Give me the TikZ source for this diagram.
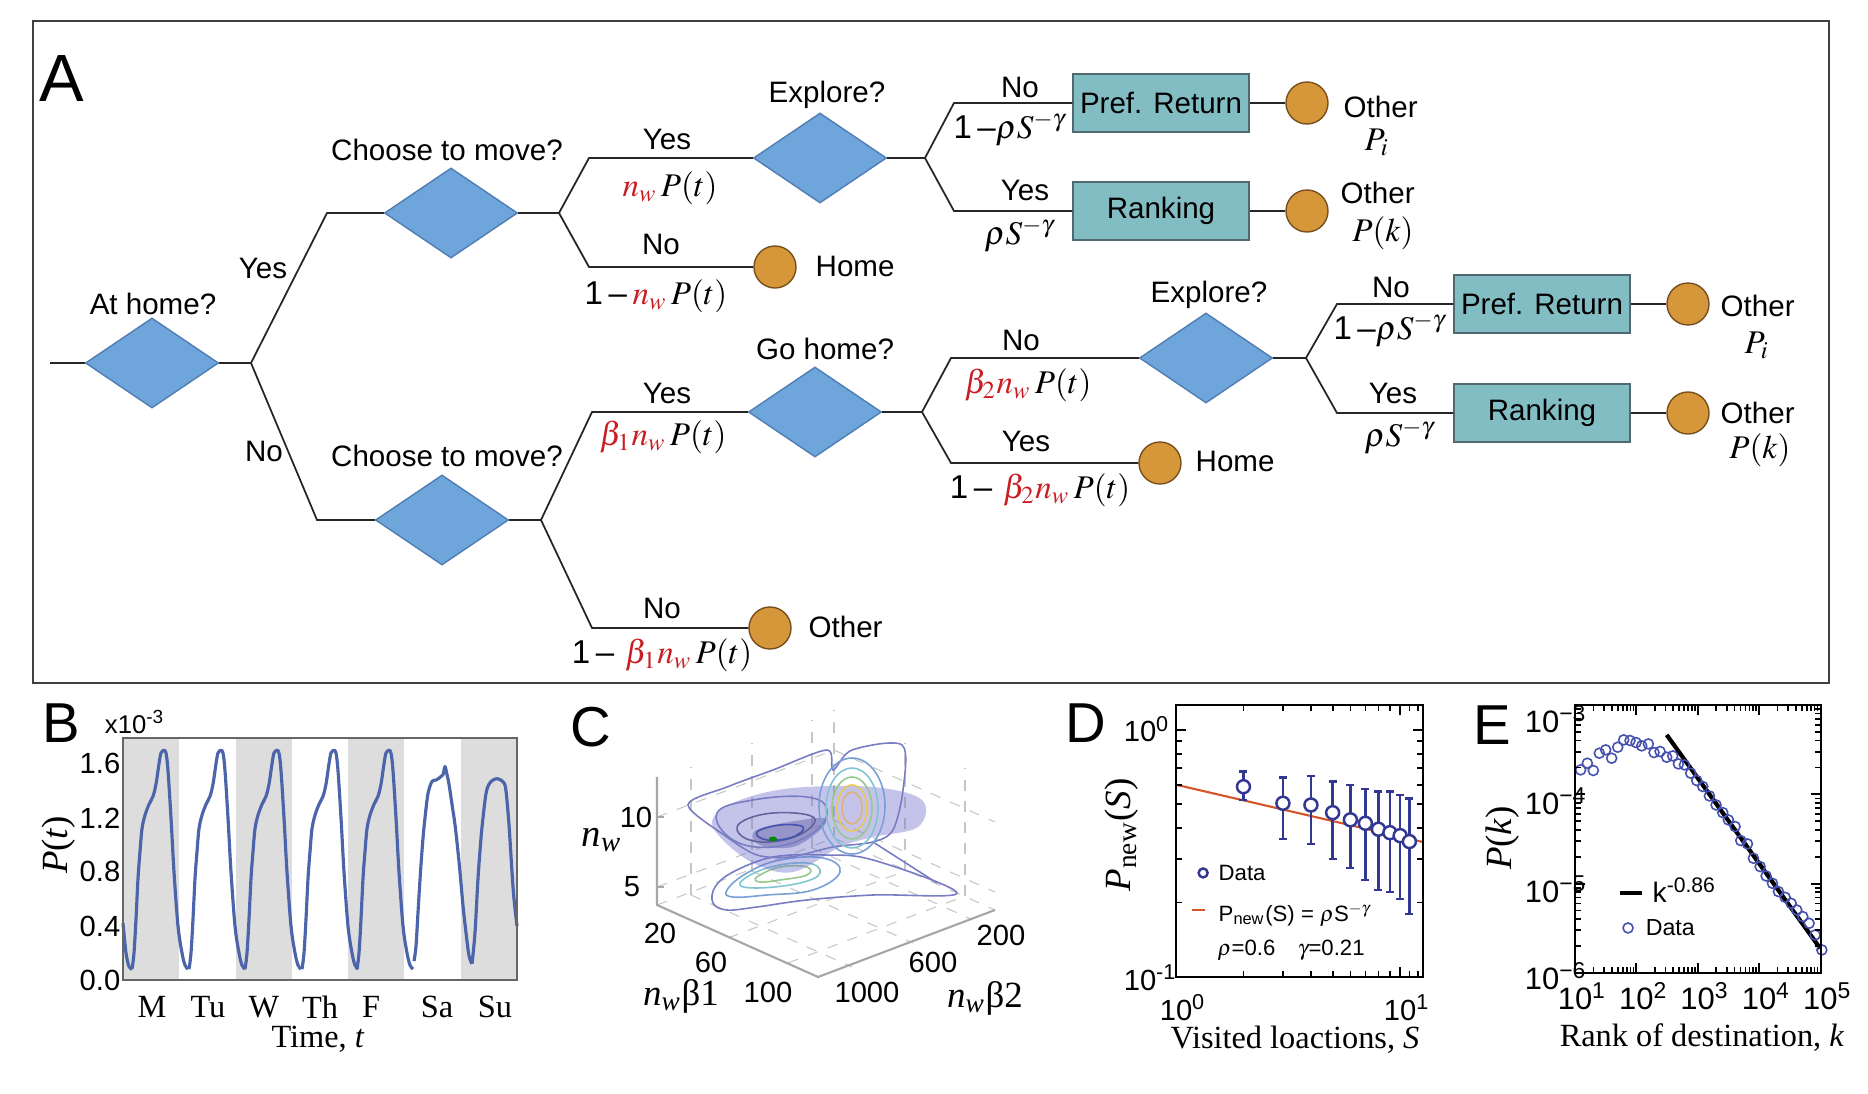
\documentclass[tikz,border=0pt]{standalone}
\usepackage{mathptmx}
\usepackage{fontspec}
\setmainfont{Liberation Sans}
\newfontfamily\timesf{Liberation Serif}
\usetikzlibrary{shapes.geometric}

\definecolor{diaFill}{RGB}{110,165,218}
\definecolor{diaLine}{RGB}{80,125,180}
\definecolor{boxFill}{RGB}{131,189,196}
\definecolor{boxLine}{RGB}{80,105,110}
\definecolor{dotFill}{RGB}{214,150,58}
\definecolor{dotLine}{RGB}{120,80,30}
\definecolor{probRed}{RGB}{200,30,35}
\definecolor{curveBlue}{RGB}{75,100,170}
\definecolor{bandGray}{RGB}{221,221,221}
\definecolor{dataBlue}{RGB}{50,55,145}
\definecolor{fitOrange}{RGB}{215,85,40}
\definecolor{ringBlue}{RGB}{70,80,175}
\definecolor{surfViolet}{RGB}{115,115,205}
\definecolor{cBlue}{RGB}{120,125,195}
\definecolor{cSky}{RGB}{120,160,215}
\definecolor{cCyan}{RGB}{130,195,210}
\definecolor{cGreen}{RGB}{150,200,140}
\definecolor{cOrange}{RGB}{225,175,120}

\newcommand\rd[1]{\textcolor{probRed}{#1}}
\newcommand\lblsize{\fontsize{8.4}{9}\selectfont}
\newcommand\probsize{\fontsize{9.4}{10}\selectfont}
\newcommand\plotsize{\fontsize{8.3}{9}\selectfont}
\newcommand\serifsize{\fontsize{9.2}{10}\selectfont\timesf}
\newcommand\legsize{\fontsize{6.3}{7}\selectfont}
\newcommand\nw{{\timesf\itshape n\textsubscript{w}}}

\tikzset{
  decision/.style={diamond, draw=diaLine, fill=diaFill, minimum width=1.33cm, minimum height=0.9cm, inner sep=0pt},
  action/.style={rectangle, draw=boxLine, fill=boxFill, minimum width=1.76cm, minimum height=0.58cm, inner sep=0pt, font=\lblsize},
  outcome/.style={circle, draw=dotLine, fill=dotFill, minimum size=0.42cm, inner sep=0pt},
  edge/.style={black!85, line width=0.5pt},
  lbl/.style={font=\lblsize, inner sep=0pt},
  prob/.style={font=\probsize, inner sep=0pt},
  panel/.style={font=\fontsize{16}{16}\selectfont, inner sep=0pt},
  ticklbl/.style={font=\plotsize, inner sep=0pt},
  axlbl/.style={font=\serifsize, inner sep=0pt},
  weekcurve/.style={curveBlue, line width=0.9pt, line join=round},
  axln/.style={black, line width=0.5pt},
  cgrid/.style={gray!45, dashed, line width=0.3pt},
  ctr/.style={line width=0.45pt},
  dataring/.style={dataBlue, line width=0.7pt, fill=white},
  databar/.style={dataBlue, line width=0.7pt},
  fitline/.style={fitOrange, line width=0.6pt},
  ring/.style={ringBlue, line width=0.45pt},
}

\begin{document}
\begin{tikzpicture}[x=0.01cm, y=-0.01cm]
\useasboundingbox (0,0) rectangle (1868,1094);

%%%%% A: decision tree %%%%%
\draw[black!75, line width=0.6pt] (33,21) rectangle (1829,683);
\node[panel, font=\fontsize{19}{19}\selectfont] (pA) at (62,79) {A};

\node[decision] (athome) at (152,363) {};
\node[decision] (mv1) at (451,213) {};
\node[decision] (mv2) at (442,520) {};
\node[decision] (exp1) at (820,158) {};
\node[decision] (gohome) at (815,412) {};
\node[decision] (exp2) at (1206,358) {};

\node[action] (pr1) at (1161,103) {Pref. Return};
\node[action] (rk1) at (1161,211) {Ranking};
\node[action] (pr2) at (1542,304) {Pref. Return};
\node[action] (rk2) at (1542,413) {Ranking};

\node[outcome] (home1) at (775,267) {};
\node[outcome] (other1) at (770,628) {};
\node[outcome] (home2) at (1160,463) {};
\node[outcome] (oth1) at (1307,103) {};
\node[outcome] (oth2) at (1307,211) {};
\node[outcome] (oth3) at (1688,304) {};
\node[outcome] (oth4) at (1688,413) {};

\node[lbl] (qathome) at (153,304) {At home?};
\node[lbl] (qmv1) at (447,150) {Choose to move?};
\node[lbl] (qmv2) at (447,456) {Choose to move?};
\node[lbl] (qexp1) at (827,95) {Explore?};
\node[lbl] (qgohome) at (825,349) {Go home?};
\node[lbl] (qexp2) at (1209,295) {Explore?};

\coordinate (start) at (50,363);
\coordinate (b1) at (251,363);
\coordinate (b2) at (559,213);
\coordinate (b3) at (541,520);
\coordinate (b4) at (925,158);
\coordinate (b5) at (922,412);
\coordinate (b6) at (1306,358);

\draw[edge] (start) -- (athome.west);
\draw[edge] (athome.east) -- (b1) -- (327,213) -- (mv1.west);
\draw[edge] (b1) -- (317,520) -- (mv2.west);
\draw[edge] (mv1.east) -- (b2) -- (589,158) -- (exp1.west);
\draw[edge] (b2) -- (589,267) -- (home1.west);
\draw[edge] (mv2.east) -- (b3) -- (592,412) -- (gohome.west);
\draw[edge] (b3) -- (592,628) -- (other1.west);
\draw[edge] (exp1.east) -- (b4) -- (954,103) -- (pr1.west);
\draw[edge] (b4) -- (954,211) -- (rk1.west);
\draw[edge] (gohome.east) -- (b5) -- (951,358) -- (exp2.west);
\draw[edge] (b5) -- (951,463) -- (home2.west);
\draw[edge] (exp2.east) -- (b6) -- (1337,304) -- (pr2.west);
\draw[edge] (b6) -- (1337,413) -- (rk2.west);
\draw[edge] (pr1) -- (oth1);
\draw[edge] (rk1) -- (oth2);
\draw[edge] (pr2) -- (oth3);
\draw[edge] (rk2) -- (oth4);

% branch labels
\node[lbl] (y1) at (263,268) {Yes};
\node[lbl] (n1) at (264,451) {No};
\node[lbl] (y2) at (667,139) {Yes};
\node[prob] (p2) at (670,188) {$\rd{n_w}\,P(t)$};
\node[lbl] (n2) at (661,244) {No};
\node[prob] (q2) at (656,296) {1\,–\,$\rd{n_w}\,P(t)$};
\node[lbl] (y3) at (667,393) {Yes};
\node[prob] (p3) at (663,437) {$\rd{\beta_1 n_w}\,P(t)$};
\node[lbl] (n3) at (662,608) {No};
\node[prob] (q3) at (662,655) {1\,–\,\,$\rd{\beta_1 n_w}\,P(t)$};
\node[lbl] (n4) at (1020,87) {No};
\node[prob] (q4) at (1010,129) {1\,–$\rho S^{-\gamma}$};
\node[lbl] (y4) at (1025,190) {Yes};
\node[prob] (p4) at (1020,235) {$\rho S^{-\gamma}$};
\node[lbl] (n5) at (1021,340) {No};
\node[prob] (q5) at (1028,385) {$\rd{\beta_2 n_w}\,P(t)$};
\node[lbl] (y5) at (1026,441) {Yes};
\node[prob] (p5) at (1040,490) {1\,–\,\,$\rd{\beta_2 n_w}\,P(t)$};
\node[lbl] (n6) at (1391,287) {No};
\node[prob] (q6) at (1390,330) {1\,–$\rho S^{-\gamma}$};
\node[lbl] (y6) at (1393,393) {Yes};
\node[prob] (p6) at (1400,437) {$\rho S^{-\gamma}$};

% outcomes
\node[lbl, anchor=west] (t1) at (815,266) {Home};
\node[lbl, anchor=west] (t2) at (808,627) {Other};
\node[lbl, anchor=west] (t3) at (1195,461) {Home};
\node[lbl, anchor=west] (t4) at (1343,107) {Other};
\node[prob] (t4p) at (1377,142) {$P_i$};
\node[lbl, anchor=west] (t5) at (1340,193) {Other};
\node[prob] (t5p) at (1383,233) {$P(k)$};
\node[lbl, anchor=west] (t6) at (1720,306) {Other};
\node[prob] (t6p) at (1757,345) {$P_i$};
\node[lbl, anchor=west] (t7) at (1720,413) {Other};
\node[prob] (t7p) at (1760,450) {$P(k)$};

%%%%% B: P(t) over the week %%%%%
\node[panel] (pB) at (61,723) {B};
\begin{scope}[shift={(123,980)}, x=0.01cm, y=1.35cm]
  \foreach \d in {0,2,4,6}
    \fill[bandGray] ({\d*56.29},0) rectangle ({(\d+1)*56.29},1.793);
  \draw[weekcurve] plot[smooth] coordinates {(0,0.42) (3,0.2) (6,0.1) (9,0.08)};
  \foreach \m in {9,66,122,179,234}
    \draw[weekcurve] plot[smooth, tension=0.55] coordinates {(\m,0.08) ({\m+2},0.2) ({\m+4},0.45) ({\m+6},0.75) ({\m+8},0.95) ({\m+10},1.12) ({\m+13},1.22) ({\m+17},1.3) ({\m+21},1.36) ({\m+24},1.45) ({\m+27},1.6) ({\m+29},1.68) ({\m+32},1.7) ({\m+34},1.68) ({\m+36},1.55) ({\m+39},1.2) ({\m+42},0.8) ({\m+46},0.4) ({\m+50},0.2) ({\m+53},0.11) ({\m+56},0.08)};
  % weekend
  \draw[weekcurve] plot[smooth, tension=0.55] coordinates {(291,0.14) (293,0.25) (295,0.5) (297.5,0.8) (300,1.05) (302,1.2) (305,1.38) (309,1.47) (313,1.48) (317,1.5) (320,1.52) (322,1.58) (324,1.52) (326,1.45) (329,1.3) (332,1.15) (335,0.95) (337,0.8) (340,0.55) (343,0.35) (346,0.18) (349,0.12)};
  \draw[weekcurve] plot[smooth, tension=0.55] coordinates {(349,0.12) (352,0.35) (355,0.75) (358,1.05) (360,1.2) (363,1.38) (366,1.45) (370,1.48) (374,1.49) (378,1.48) (381,1.46) (383,1.4) (386,1.15) (389,0.8) (391,0.6) (394,0.4)};
  \draw[black!60, line width=0.5pt] (0,0) rectangle (394,1.793);
  \foreach \v [count=\i] in {0.0,0.4,0.8,1.2,1.6}
    \node[ticklbl, anchor=east] (byt\i) at (-2,\v) {\v};
  \foreach \x/\d [count=\i] in {29/M,85/Tu,141/W,197/Th,248/F,314/Sa,372/Su}
    \node[axlbl] (bday\i) at (\x,-0.2) {\d};
  \node[axlbl] (bxlab) at (195,-0.44) {Time, \textit{t}};
  \node[axlbl, rotate=90, font=\fontsize{10.5}{11}\selectfont\timesf] (bylab) at (-64,1.0) {\textit{P}(\textit{t})};
  \node[ticklbl, font=\fontsize{7.3}{8}\selectfont] (bscale) at (12,1.91) {x10\textsuperscript{-3}};
\end{scope}

%%%%% C: parameter landscape %%%%%
\node[panel] (pC) at (591,727) {C};
% back walls and floor
\draw[cgrid] (834,838) -- (834,710);
\draw[cgrid] (691,895) -- (691,767);
\draw[cgrid] (752,871) -- (752,743);
\draw[cgrid] (812,848) -- (812,720);
\draw[cgrid] (905,871) -- (905,743);
\draw[cgrid] (965,896) -- (965,768);
\draw[cgrid] (657,887) -- (834,820) -- (995,892);
\draw[cgrid] (657,817) -- (834,750) -- (995,822);
\draw[cgrid] (657,905) -- (834,838) -- (995,910);
\draw[cgrid] (728,938) -- (905,871);
\draw[cgrid] (788,963) -- (965,896);
\draw[cgrid] (691,895) -- (852,967);
\draw[cgrid] (752,871) -- (913,943);
\draw[cgrid] (812,848) -- (973,920);
% lower contour layer
\draw[ctr, cBlue] plot[smooth cycle, tension=0.6] coordinates {(713,903) (715,887) (733,872) (773,857) (823,855) (873,860) (957,893) (873,895) (807,900) (757,907) (727,910)};
\draw[ctr, cSky] plot[smooth cycle, tension=0.7] coordinates {(727,890) (747,873) (780,860) (823,858) (840,872) (813,890) (767,895) (733,897)};
\draw[ctr, cCyan] plot[smooth cycle, tension=0.7] coordinates {(740,883) (767,868) (807,863) (820,873) (800,883) (757,888)};
\draw[ctr, cGreen] plot[smooth cycle, tension=0.7] coordinates {(757,877) (780,867) (807,867) (807,875) (780,880) (760,882)};
\draw[ctr, cBlue] (873,842) -- (937,883);
% translucent surfaces
\fill[surfViolet, opacity=0.42] plot[smooth cycle, tension=0.6] coordinates {(713,818) (740,800) (793,788) (873,787) (922,800) (918,827) (873,837) (840,847) (793,872) (753,863) (720,837)};
\fill[surfViolet!80!black, opacity=0.45] plot[smooth cycle, tension=0.6] coordinates {(753,833) (773,825) (823,818) (820,830) (793,847) (760,845)};
% upper contour layer
\draw[ctr, cBlue] plot[smooth cycle, tension=0.5] coordinates {(688,805) (727,787) (773,770) (827,750) (833,770) (852,750) (902,745) (903,790) (893,830) (873,842) (833,847) (790,857) (757,855) (727,837)};
\draw[ctr, cBlue] plot[smooth cycle, tension=0.7] coordinates {(717,813) (753,800) (807,797) (827,810) (813,833) (773,847) (733,840)};
\draw[ctr, cBlue!80!black] plot[smooth cycle, tension=0.7] coordinates {(740,823) (773,813) (813,817) (803,833) (770,842) (743,837)};
\draw[ctr, ringBlue] plot[smooth cycle, tension=0.7] coordinates {(757,832) (780,825) (803,827) (793,837) (767,840)};
\draw[ctr, cSky] (852,806) ellipse[x radius=33, y radius=48];
\draw[ctr, cCyan] (852,808) ellipse[x radius=26, y radius=40];
\draw[ctr, cGreen] (852,808) ellipse[x radius=20, y radius=31];
\draw[ctr, cOrange!70!yellow] (852,808) ellipse[x radius=15, y radius=23];
\draw[ctr, cOrange] (852,808) ellipse[x radius=10, y radius=16];
\fill[green!55!black] (773,839) ellipse[x radius=4, y radius=2.5];
% axes
\draw[gray!70, line width=0.6pt] (657,777) -- (657,905) -- (818,977) -- (995,910);
\foreach \y in {817,887} \draw[gray!70, line width=0.5pt] (657,\y) -- (664,\y);
\node[ticklbl] (cz1) at (636,817) {10};
\node[ticklbl] (cz2) at (632,887) {5};
\node[axlbl, font=\fontsize{11}{12}\selectfont] (czl) at (602,840) {\nw};
\node[ticklbl] (cx1) at (660,933) {20};
\node[ticklbl] (cx2) at (711,962) {60};
\node[ticklbl] (cx3) at (768,992) {100};
\node[axlbl, font=\fontsize{10.5}{11}\selectfont] (cxl) at (681,996) {\nw{\timesf β1}};
\node[ticklbl] (cy1) at (867,992) {1000};
\node[ticklbl] (cy2) at (933,962) {600};
\node[ticklbl] (cy3) at (1001,935) {200};
\node[axlbl, font=\fontsize{10.5}{11}\selectfont] (cyl) at (985,998) {\nw{\timesf β2}};

%%%%% D: probability to explore %%%%%
\node[panel] (pD) at (1086,723) {D};
\begin{scope}[shift={(1176,977)}, x=2.24cm, y=2.47cm]
  \draw[fitline] (0,0.778) -- (1.103,0.546);
  \foreach \s/\v/\lo/\hi in {2/0.770/0.717/0.831, 3/0.703/0.559/0.808, 4/0.696/0.538/0.814, 5/0.665/0.478/0.791, 6/0.636/0.440/0.777, 7/0.622/0.393/0.761, 8/0.598/0.352/0.750, 9/0.584/0.345/0.750, 10/0.572/0.315/0.737, 11/0.548/0.255/0.723} {
    \pgfmathsetmacro\l{log10(\s)}
    \draw[databar] (\l,\lo) -- (\l,\hi);
    \draw[databar] (\l,\lo) ++(-0.4mm,0) -- ++(0.8mm,0);
    \draw[databar] (\l,\hi) ++(-0.4mm,0) -- ++(0.8mm,0);
    \draw[dataring] (\l,\v) circle[radius=0.65mm];
  }
  \draw[axln] (0,0) rectangle (1.103,1.101);
  \foreach \k in {2,...,9} {
    \pgfmathsetmacro\l{log10(\k)}
    \draw[axln] (\l,0) -- ++(0,0.6mm);
    \draw[axln] (\l,1.101) -- ++(0,-0.6mm);
    \draw[axln] (0,\l) -- ++(0.6mm,0);
    \draw[axln] (1.103,\l) -- ++(-0.6mm,0);
  }
  \foreach \k in {11,12} {
    \pgfmathsetmacro\l{log10(\k)}
    \draw[axln] (\l,0) -- ++(0,0.6mm);
    \draw[axln] (\l,1.101) -- ++(0,-0.6mm);
  }
  \draw[axln] (1,0) -- ++(0,1mm) (1,1.101) -- ++(0,-1mm);
  \draw[axln] (0,1) -- ++(1mm,0) (1.103,1) -- ++(-1mm,0);
  \node[ticklbl, anchor=base east] (dy1) at (-0.085,0.951) {10\rlap{\textsuperscript{0}}};
  \node[ticklbl, anchor=base east] (dy2) at (-0.085,-0.053) {10\rlap{\textsuperscript{-1}}};
  \node[ticklbl, anchor=base] (dx1) at (0,-0.174) {10\rlap{\textsuperscript{0}}};
  \node[ticklbl, anchor=base] (dx2) at (1,-0.174) {10\rlap{\textsuperscript{1}}};
  \node[axlbl, rotate=90, font=\fontsize{10.5}{11}\selectfont\timesf] (dylab) at (-0.241,0.575) {\textit{P}\textsubscript{new}(\textit{S})};
  \node[axlbl] (dxlab) at (0.531,-0.255) {Visited loactions, \textit{S}};
  % legend
  \draw[dataring] (0.121,0.421) circle[radius=0.45mm];
  \node[ticklbl, font=\legsize, anchor=west] (dleg1) at (0.1875,0.421) {Data};
  \draw[fitline] (0.071,0.271) -- (0.129,0.271);
  \node[ticklbl, font=\legsize, anchor=west] (dleg2) at (0.1875,0.251) {P\textsubscript{new}(S) = $\rho$S$^{-\gamma}$};
  \node[ticklbl, font=\legsize, anchor=west] (dleg3) at (0.183,0.109) {$\rho$=0.6\quad$\gamma$=0.21};
\end{scope}

%%%%% E: rank of destination %%%%%
\node[panel] (pE) at (1492,725) {E};
\begin{scope}[shift={(1575,973)}, x=0.613cm, y=0.893cm]
  \draw[black, line width=1.2pt] (1.495,2.665) -- (3.997,0.276);
  \foreach \p/\q in {0.092/2.273, 0.201/2.348, 0.299/2.266, 0.397/2.460, 0.500/2.497, 0.598/2.404, 0.696/2.527, 0.794/2.609, 0.897/2.602, 0.995/2.579, 1.088/2.542, 1.196/2.564, 1.289/2.467, 1.387/2.479, 1.495/2.415, 1.593/2.430, 1.686/2.340, 1.784/2.329, 1.887/2.236, 1.985/2.154, 2.083/2.087, 2.191/1.982, 2.300/1.881, 2.409/1.795, 2.501/1.713, 2.610/1.639, 2.703/1.482, 2.811/1.445, 2.909/1.284, 3.018/1.191, 3.116/1.086, 3.219/1.004, 3.317/0.911, 3.426/0.847, 3.524/0.780, 3.616/0.705, 3.714/0.631, 3.817/0.556, 3.915/0.426, 4.024/0.258}
    \draw[ring] (\p,\q) circle[radius=0.5mm];
  \draw[axln] (0,0) rectangle (4.01,3);
  \foreach \d in {0,...,3}
    \foreach \k in {2,...,9} {
      \pgfmathsetmacro\l{\d+log10(\k)}
      \draw[axln] (\l,0) -- ++(0,0.6mm);
      \draw[axln] (\l,3) -- ++(0,-0.6mm);
    }
  \foreach \d in {0,...,2}
    \foreach \k in {2,...,9} {
      \pgfmathsetmacro\l{\d+log10(\k)}
      \draw[axln] (0,\l) -- ++(0.6mm,0);
      \draw[axln] (4.01,\l) -- ++(-0.6mm,0);
    }
  \foreach \d in {1,2,3}
    \draw[axln] (\d,0) -- ++(0,1mm) (\d,3) -- ++(0,-1mm);
  \foreach \d in {1,2}
    \draw[axln] (0,\d) -- ++(1mm,0) (4.01,\d) -- ++(-1mm,0);
  \foreach \d [count=\i] in {1,...,5}
    \node[ticklbl, font=\fontsize{8.8}{9}\selectfont, anchor=base] (ex\i) at ({\d-1},-0.414) {10\rlap{\textsuperscript{\d}}};
  \foreach \d/\y [count=\i] in {3/2.69,4/1.776,5/0.787,6/-0.19}
    \node[ticklbl, font=\fontsize{8.8}{9}\selectfont, anchor=base east] (ey\i) at (-0.245,\y) {10\rlap{\textsuperscript{−\d}}};
  \node[axlbl, rotate=90, font=\fontsize{10.5}{11}\selectfont\timesf] (eylab) at (-1.175,1.512) {\textit{P}(\textit{k})};
  \node[axlbl] (exlab) at (2.07,-0.728) {Rank of destination, \textit{k}};
  % legend
  \draw[black, line width=1.2pt] (0.734,0.896) -- (1.093,0.896);
  \node[ticklbl, font=\fontsize{8}{9}\selectfont, anchor=base west] (eleg1) at (1.256,0.784) {k\textsuperscript{-0.86}};
  \draw[ring] (0.865,0.504) circle[radius=0.5mm];
  \node[ticklbl, font=\fontsize{6.6}{7}\selectfont, anchor=west] (eleg2) at (1.142,0.504) {Data};
\end{scope}

\end{tikzpicture}
\end{document}
